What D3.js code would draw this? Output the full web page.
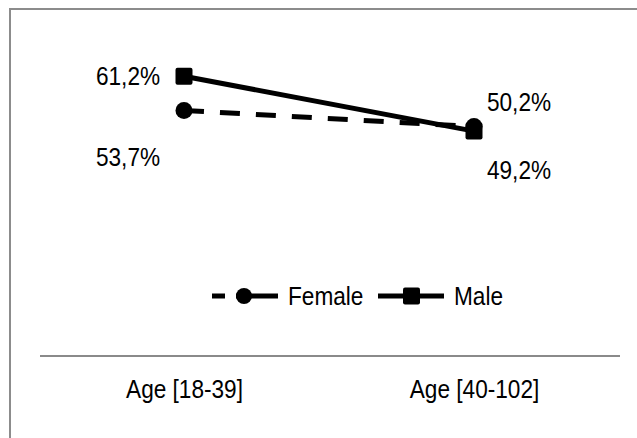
<!DOCTYPE html>
<html>
<head>
<meta charset="utf-8">
<script src="https://cdn.jsdelivr.net/npm/d3@7"></script>
<style>
body { margin:0; background:#fff; }
text { font-family: "Liberation Sans", Arial, sans-serif; fill:#000; }
</style>
</head>
<body>
<svg id="chart" width="637" height="438"></svg>
<script>
var categories = ["Age [18-39]", "Age [40-102]"];
var seriesNames = ["Female", "Male"];
var femaleVals = [0.537, 0.502];
var maleVals = [0.612, 0.492];
var femaleLabels = ["53,7%", "50,2%"];
var maleLabels = ["61,2%", "49,2%"];

var svg = d3.select("#chart");
var fontSize = 26;
var squeeze = 0.87; // narrow looking text

// outer frame (right/bottom edges fall outside the picture)
svg.append("rect")
  .attr("x", 10).attr("y", 9)
  .attr("width", 640).attr("height", 440)
  .attr("fill", "#fff")
  .attr("stroke", "#8c8c8c")
  .attr("stroke-width", 2);

var x = d3.scalePoint().domain(categories).range([184, 474]);
var y = d3.scaleLinear().domain([0, 0.7]).range([356, 36]);

function addText(g, tx, ty, str, anchor) {
  return g.append("text")
    .attr("transform", "translate(" + tx + "," + ty + ") scale(" + squeeze + ",1)")
    .attr("text-anchor", anchor || "middle")
    .attr("font-size", fontSize)
    .text(str);
}

// category axis
var xAxis = svg.append("g")
  .attr("transform", "translate(0," + y(0) + ")")
  .call(d3.axisBottom(x).tickSize(0));
xAxis.select(".domain").remove();
xAxis.append("line")
  .attr("x1", 40).attr("x2", 620)
  .attr("stroke", "#8a8a8a").attr("stroke-width", 2);
xAxis.selectAll(".tick text")
  .attr("font-size", fontSize)
  .attr("font-family", null)
  .attr("fill", "#000")
  .attr("y", 42)
  .attr("dy", 0)
  .attr("transform", "scale(" + squeeze + ",1)");

var line = d3.line()
  .x(function(d, i) { return x(categories[i]); })
  .y(function(d) { return y(d); });

// female dashed line
svg.append("path")
  .datum(femaleVals)
  .attr("d", line)
  .attr("fill", "none")
  .attr("stroke", "#000")
  .attr("stroke-width", 5)
  .attr("stroke-dasharray", "20,16");

// male solid line
svg.append("path")
  .datum(maleVals)
  .attr("d", line)
  .attr("fill", "none")
  .attr("stroke", "#000")
  .attr("stroke-width", 5);

svg.append("g").selectAll("circle")
  .data(femaleVals)
  .join("circle")
  .attr("cx", function(d, i) { return x(categories[i]); })
  .attr("cy", function(d) { return y(d); })
  .attr("r", 8.5)
  .attr("fill", "#000");

svg.append("g").selectAll("rect")
  .data(maleVals)
  .join("rect")
  .attr("x", function(d, i) { return x(categories[i]) - 8.5; })
  .attr("y", function(d) { return y(d) - 8.5; })
  .attr("width", 17).attr("height", 17)
  .attr("rx", 2)
  .attr("fill", "#000");

// data labels
var labels = svg.append("g");
var fOff = [[-56, 55], [45, -16]];
var mOff = [[-56, 9], [45, 48]];
femaleVals.forEach(function(d, i) {
  addText(labels, x(categories[i]) + fOff[i][0], y(d) + fOff[i][1], femaleLabels[i]);
});
maleVals.forEach(function(d, i) {
  addText(labels, x(categories[i]) + mOff[i][0], y(d) + mOff[i][1], maleLabels[i]);
});

// legend
var legend = svg.append("g").attr("transform", "translate(0,296)");
var legendItems = [
  {name: seriesNames[0], x0: 212, dash: "13,11,100", mark: "circle"},
  {name: seriesNames[1], x0: 378, dash: null, mark: "rect"}
];
legendItems.forEach(function(it) {
  legend.append("line")
    .attr("x1", it.x0).attr("x2", it.x0 + 66)
    .attr("stroke", "#000").attr("stroke-width", 5)
    .attr("stroke-dasharray", it.dash);
  if (it.mark == "circle") {
    legend.append("circle").attr("cx", it.x0 + 32).attr("r", 8).attr("fill", "#000");
  } else {
    legend.append("rect").attr("x", it.x0 + 25).attr("y", -8.5)
      .attr("width", 17).attr("height", 17).attr("rx", 2).attr("fill", "#000");
  }
  addText(legend, it.x0 + 76, 9, it.name, "start");
});
</script>
</body>
</html>
